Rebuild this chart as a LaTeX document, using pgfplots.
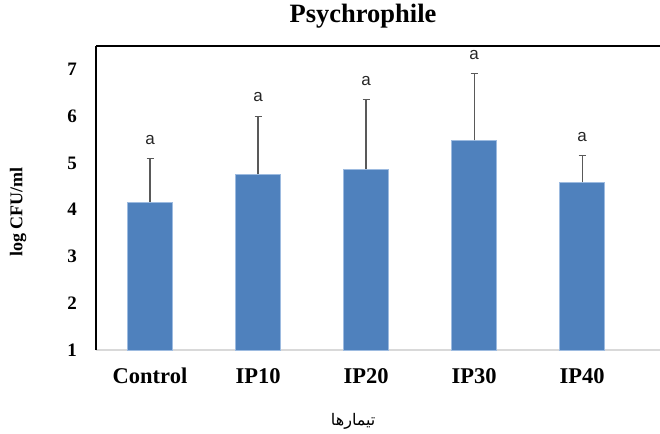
\documentclass[border=0pt]{standalone}
\usepackage{pgfplots}
\pgfplotsset{compat=1.18}
\usepackage{fontspec}
\setmainfont{Liberation Serif}
\newfontfamily\arialfont{Liberation Sans}
\newfontfamily\arabicfont[Script=Arabic]{DejaVu Sans}
\TeXXeTstate=1
\definecolor{barblue}{HTML}{4F81BD}
\definecolor{baredge}{HTML}{9DBBE0}
\definecolor{errgray}{HTML}{595959}
\definecolor{xaxisgray}{HTML}{D9D9D9}
\pgfplotstableread{
x y e
0 4.16 0.93
1 4.76 1.24
2 4.87 1.48
3 5.48 1.43
4 4.59 0.57
}\datatable
\begin{document}
\begin{tikzpicture}
\path[use as bounding box] (-96pt,-83pt) rectangle (564pt,350pt);
\begin{axis}[
  scale only axis, width=564pt, height=304pt,
  xmin=-0.5, xmax=4.72, ymin=1, ymax=7.5,
  axis x line*=bottom, axis y line*=left,
  x axis line style={draw=xaxisgray, line width=1.3pt, -},
  y axis line style={draw=black, line width=1.2pt, -},
  xtick={0,1,2,3,4}, xticklabels={Control,IP10,IP20,IP30,IP40},
  ytick={1,2,3,4,5,6,7},
  major tick length=0pt,
  /pgf/number format/assume math mode=true,
  yticklabel style={font=\fontsize{19}{22}\selectfont\bfseries, anchor=east, inner sep=0pt, xshift=-19pt},
  xticklabel style={font=\fontsize{22.5}{26}\selectfont\bfseries, anchor=center, yshift=-26pt},
  ylabel={log CFU/ml},
  ylabel style={font=\fontsize{18}{21}\selectfont\bfseries, at={(axis description cs:-0.1383,0.454)}, anchor=center},
  xlabel={\arabicfont\fontsize{16}{19}\selectfont\beginR تیمارها\endR},
  xlabel style={at={(axis description cs:0.456,-0.2336)}, anchor=center},
  title={Psychrophile},
  title style={font=\fontsize{26.5}{30}\selectfont\bfseries, at={(axis description cs:0.4734,1.079)}, anchor=center},
]
\addplot[ybar, bar width=45pt, fill=barblue, draw=baredge, line width=0.8pt,
  error bars/.cd, y dir=plus, y explicit,
  error bar style={draw=errgray, line width=1.3pt},
  error mark options={rotate=90, mark size=3.5pt, line width=1.3pt, draw=errgray}]
  table[x=x, y=y, y error=e] {\datatable};
\addplot[draw=none, mark=none, nodes near coords={a},
  nodes near coords style={font=\arialfont\fontsize{17}{20}\selectfont, anchor=south, inner sep=0pt, yshift=14pt, text=black!85}]
  coordinates {(0,5.09) (1,6.00) (2,6.35) (3,6.91) (4,5.16)};
\end{axis}
\draw[black, line width=2pt] (current axis.north west) -- (current axis.north east);
\end{tikzpicture}
\end{document}
